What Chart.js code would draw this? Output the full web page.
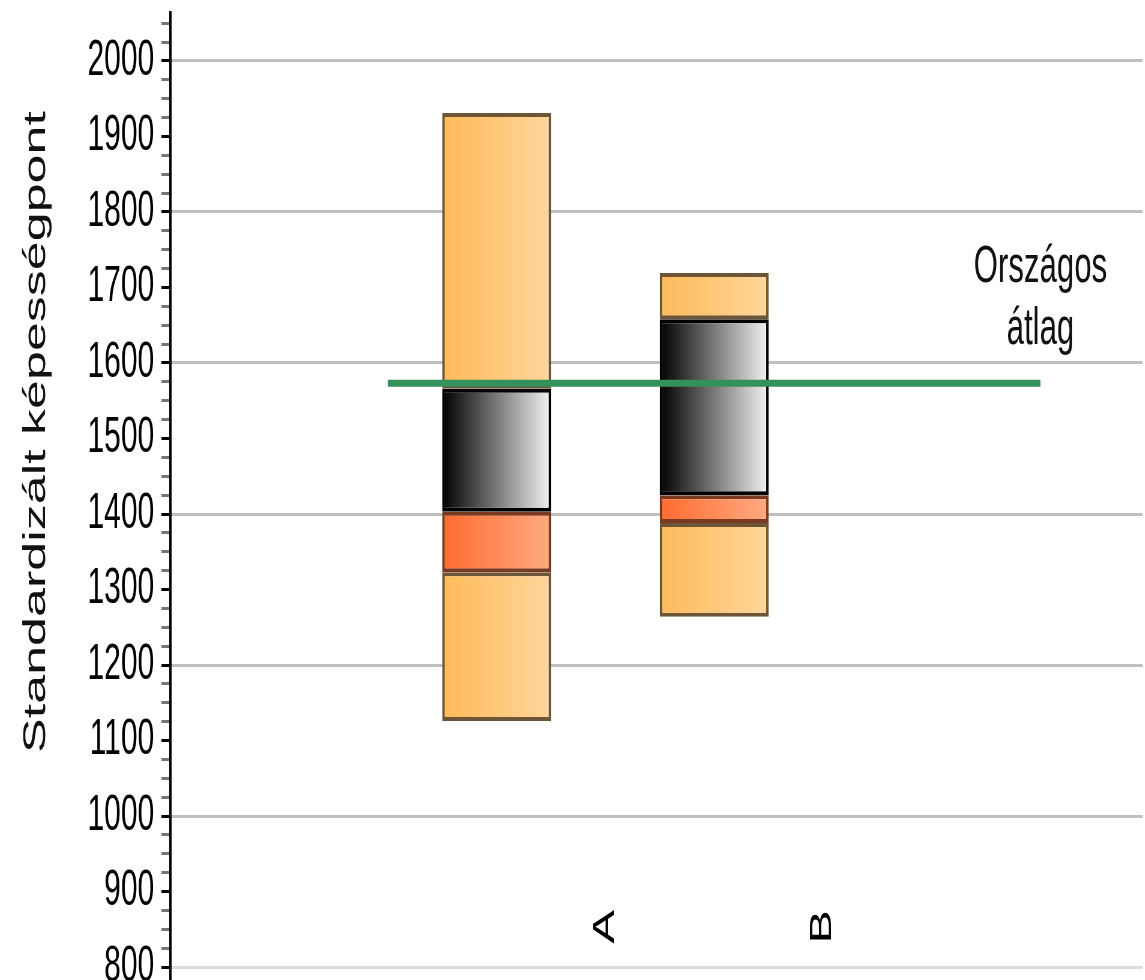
<!DOCTYPE html>
<html>
<head>
<meta charset="utf-8">
<script src="https://cdn.jsdelivr.net/npm/chart.js@4.4.1/dist/chart.umd.min.js"></script>
<style>
  html, body { margin: 0; padding: 0; overflow: hidden; background: #fff; }
  /* the reference is squeezed sideways, so the chart is drawn wide and scaled down */
  #wrap { width: 1908px; height: 992px; transform: scaleX(0.6); transform-origin: 0 0; }
</style>
</head>
<body>
<div id="wrap"><canvas id="chart"></canvas></div>
<script>
// categories and the score bands of each bar (low, high)
const categories = ['A', 'B'];
const lowerRange = [[1126, 1323], [1264, 1388]];
const lowerBand = [[1323, 1403], [1388, 1425]];
const middleBand = [[1403, 1566], [1425, 1658]];
const upperRange = [[1566, 1931], [1658, 1719]];

// national average line
const nationalAverage = 1573;
const averageFrom = 1;
const averageTo = 4;
const averageLabel = ['Országos', 'átlag'];

// axis
const axisTitle = 'Standardizált képességpont';
const yMin = 783.7;
const yMax = 2064;
const minorStep = 25;
const labelStep = 100;
const gridStep = 200;

const FONT = '"Liberation Sans", Arial, sans-serif';
const firstBarX = 1.5;

// left-to-right gradient across each bar
function barGradient(from, to) {
  return (context) => {
    const chart = context.chart;
    const x = chart.scales.x;
    if (!chart.chartArea || !x || !context.raw) return from;
    const cx = x.getPixelForValue(context.raw.x);
    const half = x.getPixelForValue(context.raw.x + 0.25) - cx;
    const g = chart.ctx.createLinearGradient(cx - half, 0, cx + half, 0);
    g.addColorStop(0, from);
    g.addColorStop(1, to);
    return g;
  };
}

const toPoints = (ranges) => ranges.map((r, i) => ({ x: i + firstBarX, y: r }));

const barDefaults = {
  type: 'bar',
  grouped: false,
  categoryPercentage: 1,
  barPercentage: 0.5,
  borderSkipped: false,
  borderWidth: 4,
};

const isLabelled = (v) => v >= yMin && v <= yMax && v % labelStep === 0;

// extra texts: axis title and the label of the average line
const extraText = {
  id: 'extraText',
  afterDraw(chart) {
    const { ctx, scales: { x, y } } = chart;
    ctx.save();
    ctx.fillStyle = '#111';
    ctx.font = '52px ' + FONT;
    ctx.textAlign = 'center';
    ctx.textBaseline = 'alphabetic';
    const ax = x.getPixelForValue(averageTo);
    const ay = y.getPixelForValue(nationalAverage);
    averageLabel.forEach((line, i) => ctx.fillText(line, ax, ay - 101 + i * 62));

    ctx.translate(75, 432);
    ctx.rotate(-Math.PI / 2);
    ctx.fillText(axisTitle, 0, 0);
    ctx.restore();
  }
};

const ctx = document.getElementById('chart').getContext('2d');
new Chart(ctx, {
  data: {
    datasets: [
      {
        type: 'line',
        label: averageLabel.join(' '),
        data: [{ x: averageFrom, y: nationalAverage }, { x: averageTo, y: nationalAverage }],
        borderColor: 'rgb(52,145,92)',
        borderWidth: 7,
        pointRadius: 0,
        order: -1,
      },
      {
        ...barDefaults,
        data: toPoints(middleBand),
        backgroundColor: barGradient('#000000', '#f4f4f4'),
        borderColor: '#000',
      },
      {
        ...barDefaults,
        data: toPoints(lowerBand),
        backgroundColor: barGradient('rgb(255,108,48)', 'rgb(255,170,130)'),
        borderColor: '#7a3a20',
      },
      {
        ...barDefaults,
        data: toPoints(upperRange),
        backgroundColor: barGradient('rgb(254,186,90)', 'rgb(255,214,155)'),
        borderColor: '#6e5536',
      },
      {
        ...barDefaults,
        data: toPoints(lowerRange),
        backgroundColor: barGradient('rgb(254,186,90)', 'rgb(255,214,155)'),
        borderColor: '#6e5536',
      },
    ],
  },
  options: {
    responsive: true,
    maintainAspectRatio: false,
    animation: false,
    layout: { padding: { top: 12 } },
    plugins: {
      legend: { display: false },
      tooltip: { enabled: false },
    },
    scales: {
      x: {
        type: 'linear',
        min: 0,
        max: 4.47,
        offset: false,
        position: { y: 886 },
        grid: { display: false, offset: false },
        border: { display: false },
        afterBuildTicks: (scale) => {
          scale.ticks = categories.map((c, i) => ({ value: i + firstBarX + 0.5 }));
        },
        ticks: {
          autoSkip: false,
          minRotation: 90,
          maxRotation: 90,
          padding: 0,
          color: '#000',
          font: { family: FONT, size: 50 },
          callback: (value, index) => categories[index],
        },
      },
      y: {
        type: 'linear',
        min: yMin,
        max: yMax,
        afterFit: (scale) => { scale.width = 284; },
        afterBuildTicks: (scale) => {
          const ticks = [];
          for (let v = 775; v <= 2075; v += minorStep) ticks.push({ value: v });
          scale.ticks = ticks;
        },
        border: { display: true, color: '#000', width: 4 },
        grid: {
          lineWidth: 3,
          tickLength: 15,
          tickWidth: 3,
          color: (c) => {
            const v = c.tick ? c.tick.value : 0;
            if (v % gridStep !== 0) return 'rgba(0,0,0,0)';
            return v === 800 ? '#dcdcdc' : '#c0c0c0';
          },
          tickColor: (c) => {
            const v = c.tick ? c.tick.value : 0;
            if (v < yMin || v > yMax) return 'rgba(0,0,0,0)';
            return v % labelStep === 0 ? '#000' : '#777';
          },
        },
        ticks: {
          autoSkip: false,
          padding: 12,
          color: '#000',
          font: (c) => ({ family: FONT, size: c.tick && isLabelled(c.tick.value) ? 50 : 1 }),
          callback: (v) => (isLabelled(v) ? String(v) : ''),
        },
      },
    },
  },
  plugins: [extraText],
});
</script>
</body>
</html>
